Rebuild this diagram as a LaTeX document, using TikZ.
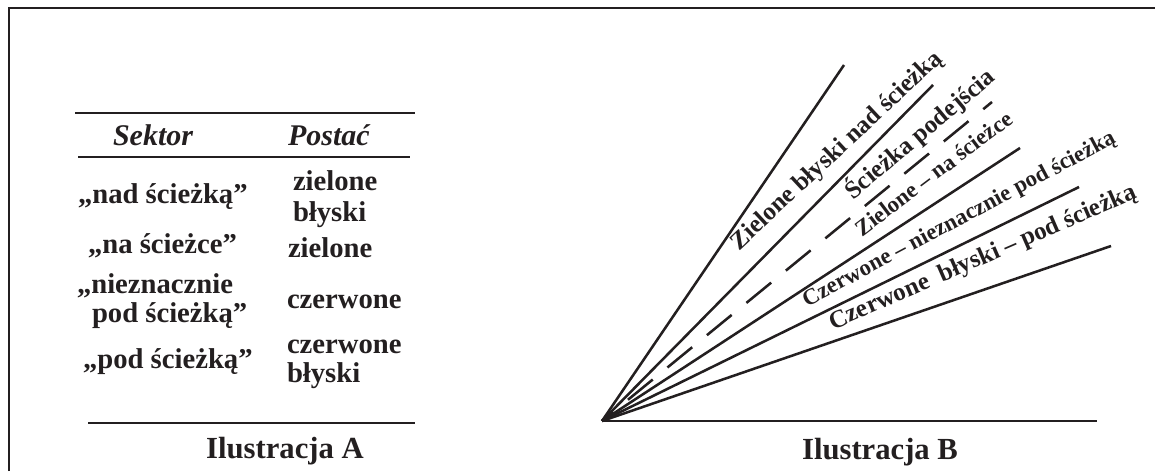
\documentclass[tikz,border=0pt]{standalone}
\usepackage{fontspec}
\setmainfont{Liberation Serif}
\definecolor{ink}{RGB}{35,31,32}
\begin{document}
\begin{tikzpicture}[x=0.75pt,y=-0.75pt,
  every node/.style={inner sep=0pt,outer sep=0pt,text=ink},
  frameline/.style={draw=ink,line width=1.8pt},
  rule/.style={draw=ink,line width=2.1pt},
  ray/.style={draw=ink,line width=1.9pt},
  dashray/.style={ray,dash pattern=on 24pt off 14.25pt,dash phase=13.1pt},
  cell/.style={font=\fontsize{21.5}{24}\selectfont\bfseries,anchor=base west},
  head/.style={font=\fontsize{22.5}{24}\selectfont\bfseries\itshape,anchor=base west},
  caption/.style={font=\fontsize{23}{26}\selectfont\bfseries,anchor=base},
  biglab/.style={font=\fontsize{18.8}{20}\selectfont\bfseries,anchor=base west},
  smalllab/.style={font=\fontsize{17.1}{18}\selectfont\bfseries,anchor=base west}]
\useasboundingbox (0,0) rectangle (1155,471);
% frame (top and left edges)
\coordinate (fTL) at (9,8);
\coordinate (fTR) at (1155,8);
\coordinate (fBL) at (9,471);
\draw[frameline] (fBL) -- (fTL) -- (fTR);
% table rules
\coordinate (r1a) at (75,113); \coordinate (r1b) at (415,113);
\coordinate (r2a) at (78,157); \coordinate (r2b) at (410,157);
\coordinate (r3a) at (88,423); \coordinate (r3b) at (415,423);
\draw[rule] (r1a) -- (r1b);
\draw[rule] (r2a) -- (r2b);
\draw[rule] (r3a) -- (r3b);
% header
\node[head] (hS) at (113,145) {Sektor};
\node[head] (hP) at (288,145) {Postać};
% rows
\node[cell] (s1) at (78,203) {„nad ścieżką”};
\node[cell] (p1a) at (293,190) {zielone};
\node[cell] (p1b) at (293,221) {błyski};
\node[cell] (s2) at (88,253) {„na ścieżce”};
\node[cell] (p2) at (288,257) {zielone};
\node[cell] (s3a) at (77,293) {„nieznacznie};
\node[cell] (s3b) at (92,322) {pod ścieżką”};
\node[cell] (p3) at (287,308) {czerwone};
\node[cell] (s4) at (83,368) {„pod ścieżką”};
\node[cell] (p4a) at (287,353) {czerwone};
\node[cell] (p4b) at (287,382) {błyski};
\node[caption] (capA) at (285,458) {Ilustracja A};
% fan
\coordinate (O) at (602,421);
\coordinate (e1) at (844,65);
\coordinate (e2) at (933,85);
\coordinate (e3) at (992,102);
\coordinate (e4) at (1020,148);
\coordinate (e5) at (1079,187);
\coordinate (e6) at (1111,246);
\coordinate (e7) at (1097,421);
\draw[ray] (O) -- (e1);
\draw[ray] (O) -- (e2);
\draw[dashray] (O) -- (e3);
\draw[ray] (O) -- (e4);
\draw[ray] (O) -- (e5);
\draw[ray] (O) -- (e6);
\draw[ray] (O) -- (e7);
\node[biglab,rotate=43] (l1) at (739,251) {Zielone błyski nad ścieżką};
\node[biglab,rotate=40] (l2) at (853,200) {Ścieżka podejścia};
\node[smalllab,rotate=37] (l3) at (862,237) {Zielone – na ścieżce};
\node[smalllab,rotate=28] (l4) at (807,307) {Czerwone – nieznacznie pod ścieżką};
\node[biglab,rotate=23.5] (l5) at (833,330) {Czerwone\ \ błyski – pod ścieżką};
\node[caption] (capB) at (880,459) {Ilustracja B};
\end{tikzpicture}
\end{document}
